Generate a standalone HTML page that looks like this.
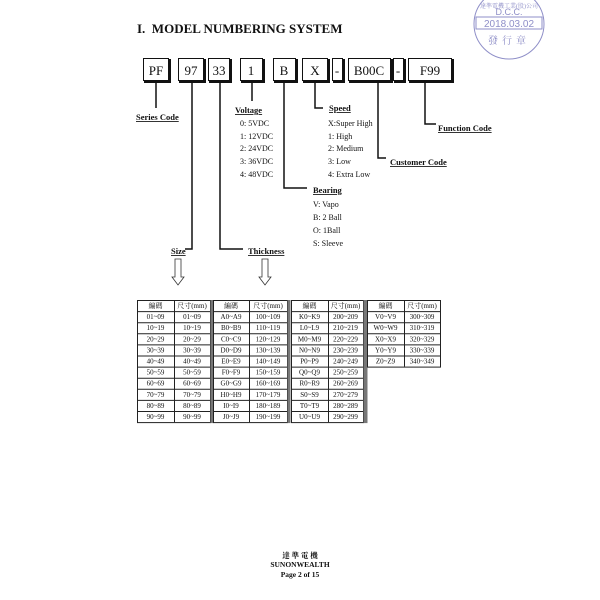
<!DOCTYPE html>
<html><head><meta charset="utf-8"><style>
html,body{margin:0;padding:0;background:#fff;}
svg{display:block;}
text{font-family:"Liberation Serif","Noto Serif CJK SC",serif;fill:#111;}
.b{font-weight:bold;}
.u{text-decoration:underline;}
</style></head><body>
<svg width="600" height="600" viewBox="0 0 600 600" xmlns="http://www.w3.org/2000/svg">
<rect width="600" height="600" fill="#fff"/>
<g stroke="#8f8fc8" fill="none" stroke-width="1">
<circle cx="509" cy="24" r="35"/>
<rect x="476" y="17" width="66" height="12"/>
</g>
<text x="509" y="8" font-size="6" text-anchor="middle" style="fill:#8f8fc8">達準電機工業(股)公司</text>
<text x="509" y="15" font-size="9" text-anchor="middle" style="fill:#8f8fc8;font-family:'Liberation Sans',sans-serif">D.C.C.</text>
<text x="509" y="27" font-size="10" text-anchor="middle" style="fill:#8f8fc8;font-family:'Liberation Sans',sans-serif">2018.03.02</text>
<text x="509" y="44" font-size="10" text-anchor="middle" letter-spacing="4" style="fill:#8f8fc8">發行章</text>

<text x="137" y="33" font-size="13" class="b">I.&#160; MODEL NUMBERING SYSTEM</text>

<g stroke="#111" fill="#fff" stroke-width="1">
<rect x="143.5" y="58.5" width="25" height="22"/>
<rect x="178.5" y="58.5" width="25" height="22"/>
<rect x="208.5" y="58.5" width="21" height="22"/>
<rect x="240.5" y="58.5" width="22" height="22"/>
<rect x="273.5" y="58.5" width="22" height="22"/>
<rect x="302.5" y="58.5" width="25" height="22"/>
<rect x="332.5" y="58.5" width="10" height="22"/>
<rect x="348.5" y="58.5" width="42" height="22"/>
<rect x="393.5" y="58.5" width="10" height="22"/>
<rect x="408.5" y="58.5" width="43" height="22"/>
</g>
<g stroke="#111" stroke-width="2" fill="none">
<path d="M170 59V82H144M205 59V82H179M231 59V82H209M264 59V82H241M297 59V82H274M329 59V82H303M344 59V82H333M392 59V82H349M405 59V82H394M453 59V82H409"/>
</g>
<g font-size="13" text-anchor="middle">
<text x="156" y="75">PF</text><text x="191" y="75">97</text><text x="219" y="75">33</text>
<text x="251" y="75">1</text><text x="284" y="75">B</text><text x="315" y="75">X</text>
<text x="337" y="75">-</text><text x="369" y="75">B00C</text><text x="398" y="75">-</text><text x="430" y="75">F99</text>
</g>
<g stroke="#111" stroke-width="1.5" fill="none">
<path d="M156 82V108"/>
<path d="M192 82V249H185"/>
<path d="M220 82V249H243"/>
<path d="M252 82V101"/>
<path d="M284 82V188H307"/>
<path d="M315 82V108H323"/>
<path d="M378 82V158H386"/>
<path d="M425 82V124H436"/>
</g>
<g font-size="8.5" class="b">
<text x="136" y="120" class="u">Series Code</text>
<text x="235" y="113" class="u">Voltage</text>
<text x="329" y="111" class="u">Speed</text>
<text x="438" y="131" class="u">Function Code</text>
<text x="390" y="165" class="u">Customer Code</text>
<text x="313" y="193" class="u">Bearing</text>
<text x="171" y="254" class="u">Size</text>
<text x="248" y="254" class="u">Thickness</text>
</g>
<g font-size="8">
<text x="240" y="126">0: 5VDC</text><text x="240" y="139">1: 12VDC</text><text x="240" y="151">2: 24VDC</text><text x="240" y="164">3: 36VDC</text><text x="240" y="177">4: 48VDC</text>
<text x="328" y="126">X:Super High</text><text x="328" y="139">1: High</text><text x="328" y="151">2: Medium</text><text x="328" y="164">3: Low</text><text x="328" y="177">4: Extra Low</text>
<text x="313" y="207">V: Vapo</text><text x="313" y="220">B: 2 Ball</text><text x="313" y="233">O: 1Ball</text><text x="313" y="246">S: Sleeve</text>
</g>
<g stroke="#333" stroke-width="0.8" fill="#fff">
<path d="M175 259H181V277H184L178 285L172 277H175Z"/>
<path d="M262 259H268V277H271L265 285L259 277H262Z"/>
</g>
<g id="tbl" font-size="7" text-anchor="middle"></g>
<g font-size="7.5" text-anchor="middle" class="b">
<text x="300" y="558">達 準 電 機</text>
<text x="300" y="567">SUNONWEALTH</text>
<text x="300" y="577">Page 2 of 15</text>
</g>
</svg>
<script>
(function(){
var g=document.getElementById('tbl'),NS='http://www.w3.org/2000/svg';
function el(n,a,t){var e=document.createElementNS(NS,n);for(var k in a)e.setAttribute(k,a[k]);if(t)e.textContent=t;g.appendChild(e);}
var groups=[[137,174,210],[213,249,287],[291,328,363],[367,404,440]];
var top=300,rh=11.1;
var letters=['ABCDEFGHIJ','KLMNPQRSTU','','VWXYZ'];
letters[2]=letters[1];
for(var gi=0;gi<4;gi++){
 var n=gi==3?5:10,x=groups[gi];
 var rows=n+1,h=rows*rh;
 el('rect',{x:x[0]+.5,y:top+.5,width:x[2]-x[0],height:h,fill:'none',stroke:'#222','stroke-width':1});
 el('line',{x1:x[1]+.5,y1:top,x2:x[1]+.5,y2:top+h,stroke:'#222','stroke-width':1});
 for(var r=1;r<rows;r++)el('line',{x1:x[0],y1:top+r*rh+.5,x2:x[2],y2:top+r*rh+.5,stroke:'#222','stroke-width':1});
 if(gi<3)el('rect',{x:x[2]+.5,y:top,width:gi==2?4:3,height:h+1,fill:'#777'});
 el('text',{x:(x[0]+x[1])/2,y:top+8,fill:'#333'},'編碼');
 el('text',{x:(x[1]+x[2])/2,y:top+8,fill:'#333'},'尺寸(mm)');
 for(var r=0;r<n;r++){
  var a,b;
  if(gi==0){a=r==0?'01~09':(r*10)+'~'+(r*10+9);b=a;}
  else{
   var ch=gi==1?letters[0][r]:(gi==2?letters[1][r]:letters[3][r]);
   a=ch+'0~'+ch+'9';
   var base=gi==3?300+r*10:100*gi+r*10; b=base+'~'+(base+9);}
  var y=top+(r+1)*rh+8;
  el('text',{x:(x[0]+x[1])/2,y:y},a);
  el('text',{x:(x[1]+x[2])/2,y:y},b);
 }
}
})();
</script>
</body></html>
